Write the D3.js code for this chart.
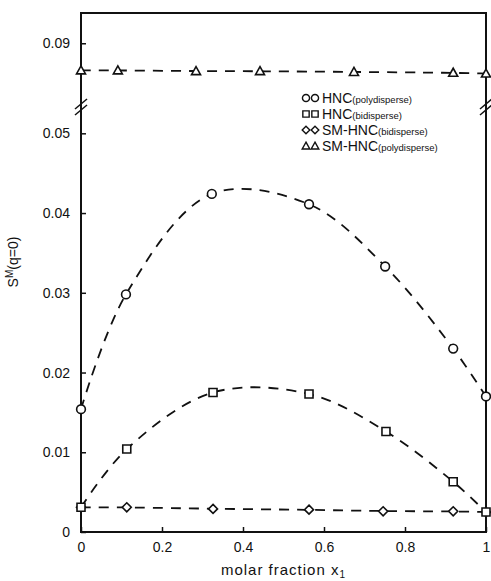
<!DOCTYPE html>
<html>
<head>
<meta charset="utf-8">
<script src="https://cdn.jsdelivr.net/npm/d3@7"></script>
<style>
  body { margin:0; background:#fff; }
  svg { display:block; font-family:"Liberation Sans", Arial, sans-serif; }
  .tick text { font-size:14px; fill:#111; }
</style>
</head>
<body>
<div id="chart"></div>
<script>
// values
const xHncPoly = [0, 0.111, 0.323, 0.563, 0.751, 0.919, 1];
const hncPoly  = [0.0154, 0.0298, 0.0424, 0.0411, 0.0333, 0.0230, 0.0170];
const xHncBi   = [0, 0.113, 0.326, 0.563, 0.753, 0.919, 1];
const hncBi    = [0.0031, 0.0104, 0.0175, 0.0173, 0.0126, 0.0063, 0.0025];
const xSmBi    = [0, 0.113, 0.326, 0.563, 0.746, 0.919, 1];
const smBi     = [0.0031, 0.0031, 0.0029, 0.0028, 0.0026, 0.0026, 0.0025];
const xSmPoly  = [0, 0.091, 0.284, 0.442, 0.674, 0.919, 1];
const smPoly   = [0.0866, 0.0866, 0.0865, 0.0865, 0.0864, 0.0863, 0.0862];

const xTicks = [0, 0.2, 0.4, 0.6, 0.8, 1];
const xTickLabels = ["0", "0.2", "0.4", "0.6", "0.8", "1"];
const yLowTicks = [0, 0.01, 0.02, 0.03, 0.04, 0.05];
const yLowLabels = ["0", "0.01", "0.02", "0.03", "0.04", "0.05"];
const yUpTicks = [0.09];
const yUpLabels = ["0.09"];

const legendNames = ["HNC", "HNC", "SM-HNC", "SM-HNC"];
const legendSubs = ["(polydisperse)", "(bidisperse)", "(bidisperse)", "(polydisperse)"];

const W = 491, H = 581;
const pL = 81, pR = 486, pT = 13, pB = 532, brk = 107;

const x = d3.scaleLinear().domain([0, 1]).range([pL, pR]);
const yLow = d3.scaleLinear().domain([0, 0.0533]).range([pB, brk]);
const yUp = d3.scaleLinear().domain([0.082, 0.0938]).range([brk, pT]);

const svg = d3.select("#chart").append("svg")
  .attr("width", W).attr("height", H);

// frame
svg.append("rect")
  .attr("x", pL).attr("y", pT)
  .attr("width", pR - pL).attr("height", pB - pT)
  .attr("fill", "none").attr("stroke", "#111").attr("stroke-width", 2);

// axes
const gx = svg.append("g").attr("transform", `translate(0,${pB})`)
  .call(d3.axisBottom(x).tickValues(xTicks).tickSize(-5).tickPadding(10)
    .tickFormat((d, i) => xTickLabels[i]));
const gyl = svg.append("g").attr("transform", `translate(${pL},0)`)
  .call(d3.axisLeft(yLow).tickValues(yLowTicks).tickSize(-5).tickPadding(11)
    .tickFormat((d, i) => yLowLabels[i]));
const gyu = svg.append("g").attr("transform", `translate(${pL},0)`)
  .call(d3.axisLeft(yUp).tickValues(yUpTicks).tickSize(-5).tickPadding(11)
    .tickFormat((d, i) => yUpLabels[i]));
[gx, gyl, gyu].forEach(g => {
  g.select(".domain").remove();
  g.selectAll(".tick line").attr("stroke", "#111").attr("stroke-width", 1.5);
});

// axis break marks
[pL, pR].forEach(bx => {
  [-3, 3].forEach(off => {
    svg.append("line")
      .attr("x1", bx - 6).attr("y1", brk + off + 5)
      .attr("x2", bx + 6).attr("y2", brk + off - 5)
      .attr("stroke", "#111").attr("stroke-width", 1.5);
  });
});

// series
const dash = "10,8";
function series(xs, ys, yScale, curve, symbol) {
  const pts = xs.map((d, i) => [x(d), yScale(ys[i])]);
  svg.append("path")
    .attr("d", d3.line().curve(curve)(pts))
    .attr("fill", "none").attr("stroke", "#111")
    .attr("stroke-width", 1.8).attr("stroke-dasharray", dash);
  svg.append("g").selectAll("path").data(pts).join("path")
    .attr("transform", d => `translate(${d[0]},${d[1]})`)
    .attr("d", symbol)
    .attr("fill", "#fff").attr("stroke", "#111").attr("stroke-width", 1.6);
}
const circ = d3.symbol(d3.symbolCircle, 60)();
const sq = d3.symbol(d3.symbolSquare, 64)();
const dia = "M0,-4.5L4.5,0L0,4.5L-4.5,0Z";
const tri = "M0,-4.5L4.5,3.5L-4.5,3.5Z";

series(xSmBi, smBi, yLow, d3.curveBasis, dia);
series(xHncBi, hncBi, yLow, d3.curveCatmullRom, sq);
series(xHncPoly, hncPoly, yLow, d3.curveCatmullRom, circ);
series(xSmPoly, smPoly, yUp, d3.curveBasis, tri);

// legend
const legSyms = [
  d3.symbol(d3.symbolCircle, 40)(),
  d3.symbol(d3.symbolSquare, 40)(),
  "M0,-3.8L3.8,0L0,3.8L-3.8,0Z",
  "M0,-3.8L3.8,3L-3.8,3Z"
];
const leg = svg.append("g").attr("transform", "translate(306,98)");
legendNames.forEach((name, i) => {
  const row = leg.append("g").attr("transform", `translate(0,${i * 16})`);
  [0, 9].forEach(dx => {
    row.append("path").attr("transform", `translate(${dx},0)`)
      .attr("d", legSyms[i]).attr("fill", "none")
      .attr("stroke", "#111").attr("stroke-width", 1.4);
  });
  const t = row.append("text").attr("x", 16).attr("y", 5).attr("fill", "#111");
  t.append("tspan").attr("font-size", 14).text(name);
  t.append("tspan").attr("font-size", 9.5).text(legendSubs[i]);
});

// axis titles
const xt = svg.append("text")
  .attr("x", (pL + pR) / 2).attr("y", 575)
  .attr("text-anchor", "middle").attr("font-size", 15)
  .attr("letter-spacing", 1).attr("fill", "#111");
xt.append("tspan").text("molar fraction  x");
xt.append("tspan").attr("font-size", 10).attr("dy", 3).text("1");

const yt = svg.append("text")
  .attr("transform", "translate(18,262) rotate(-90)")
  .attr("text-anchor", "middle").attr("font-size", 14).attr("fill", "#111");
yt.append("tspan").text("S");
yt.append("tspan").attr("font-size", 10).attr("dy", -5).text("M");
yt.append("tspan").attr("dy", 5).text("(q=0)");
</script>
</body>
</html>
